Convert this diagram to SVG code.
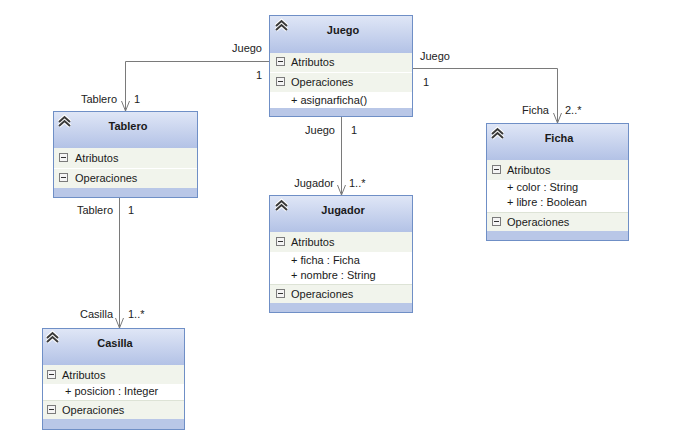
<svg xmlns="http://www.w3.org/2000/svg" width="674" height="436" viewBox="0 0 674 436">
<defs>
<linearGradient id="hdr" x1="0" y1="0" x2="0" y2="1">
<stop offset="0" stop-color="#dfe6f6"/>
<stop offset="1" stop-color="#b3c2e6"/>
</linearGradient>
<marker id="arr" viewBox="0 0 10 10" refX="10" refY="5" markerWidth="10" markerHeight="10" markerUnits="userSpaceOnUse" orient="auto">
<path d="M0,1 L10,5 L0,9" fill="none" stroke="#7a7a7a" stroke-width="1"/>
</marker>
<g id="chev">
<path d="M0,6 L5.5,1 L11,6 M0,10 L5.5,5 L11,10" fill="none" stroke="#ffffff" stroke-width="4" stroke-linejoin="miter"/>
<path d="M0,6 L5.5,1 L11,6 M0,10 L5.5,5 L11,10" fill="none" stroke="#3a3a3a" stroke-width="2"/>
</g>
<g id="minus">
<rect x="0.5" y="0.5" width="8" height="8" fill="#f4f4f4" stroke="#7b7b7b"/>
<line x1="2" y1="4.5" x2="7" y2="4.5" stroke="#333" stroke-width="1"/>
</g>
</defs>
<style>
.box{fill:#ffffff;stroke:#6f8fc6;stroke-width:1}
.hdr{fill:url(#hdr)}
.row{fill:#f1f4ec}
.band{fill:#b9c7e7}
.sep{stroke:#ffffff;stroke-width:1}
text{font-family:"Liberation Sans",Arial,sans-serif;font-size:11px;fill:#1a1a1a}
.title{font-weight:bold;text-anchor:middle}
.lbl{fill:#222}
.end{text-anchor:end}
.conn{fill:none;stroke:#7a7a7a;stroke-width:1}
</style>
<rect width="674" height="436" fill="#ffffff"/>

<g id="connectors">
<path class="conn" d="M269,61.5 H125.5 V111" marker-end="url(#arr)"/>
<path class="conn" d="M413,68.5 H557.5 V123" marker-end="url(#arr)"/>
<path class="conn" d="M341.5,117 V195" marker-end="url(#arr)"/>
<path class="conn" d="M119.5,198 V328" marker-end="url(#arr)"/>
<text class="lbl end" x="262" y="52">Juego</text>
<text class="lbl end" x="262" y="79">1</text>
<text class="lbl end" x="117" y="103">Tablero</text>
<text class="lbl" x="134" y="103">1</text>
<text class="lbl" x="420" y="60">Juego</text>
<text class="lbl" x="423" y="86">1</text>
<text class="lbl end" x="549" y="114">Ficha</text>
<text class="lbl" x="565" y="114">2..*</text>
<text class="lbl end" x="335" y="134">Juego</text>
<text class="lbl" x="351" y="134">1</text>
<text class="lbl end" x="334" y="187">Jugador</text>
<text class="lbl" x="349" y="187">1..*</text>
<text class="lbl end" x="113" y="214">Tablero</text>
<text class="lbl" x="128" y="214">1</text>
<text class="lbl end" x="113" y="318">Casilla</text>
<text class="lbl" x="128" y="318">1..*</text>
</g>

<g id="Juego">
<rect class="box" x="269.5" y="15.5" width="143" height="101"/>
<rect class="hdr" x="270" y="16" width="142" height="37"/>
<rect class="row" x="270" y="53" width="142" height="19"/>
<rect class="row" x="270" y="72" width="142" height="20"/>
<rect class="band" x="270" y="108" width="142" height="8"/>
<line class="sep" x1="270" y1="72.5" x2="412" y2="72.5"/>
<use href="#chev" x="276" y="20"/>
<text class="title" x="343" y="34">Juego</text>
<use href="#minus" x="276" y="57"/>
<text x="291" y="66">Atributos</text>
<use href="#minus" x="276" y="77"/>
<text x="291" y="86">Operaciones</text>
<text x="291" y="104">+ asignarficha()</text>
</g>

<g id="Tablero">
<rect class="box" x="53.5" y="111.5" width="144" height="86"/>
<rect class="hdr" x="54" y="112" width="143" height="36"/>
<rect class="row" x="54" y="148" width="143" height="20"/>
<rect class="row" x="54" y="168" width="143" height="20"/>
<rect class="band" x="54" y="188" width="143" height="9"/>
<line class="sep" x1="54" y1="168.5" x2="197" y2="168.5"/>
<use href="#chev" x="59" y="116"/>
<text class="title" x="128" y="130">Tablero</text>
<use href="#minus" x="59" y="153"/>
<text x="75" y="162">Atributos</text>
<use href="#minus" x="59" y="173"/>
<text x="75" y="182">Operaciones</text>
</g>

<g id="Jugador">
<rect class="box" x="269.5" y="195.5" width="143" height="117"/>
<rect class="hdr" x="270" y="196" width="142" height="36"/>
<rect class="row" x="270" y="232" width="142" height="20"/>
<rect class="row" x="270" y="284" width="142" height="19"/>
<rect class="band" x="270" y="303" width="142" height="9"/>
<line x1="270" y1="284.5" x2="412" y2="284.5" stroke="#dde3d6"/>
<use href="#chev" x="276" y="200"/>
<text class="title" x="343" y="214">Jugador</text>
<use href="#minus" x="276" y="237"/>
<text x="291" y="246">Atributos</text>
<text x="291" y="264">+ ficha : Ficha</text>
<text x="291" y="279">+ nombre : String</text>
<use href="#minus" x="276" y="289"/>
<text x="291" y="298">Operaciones</text>
</g>

<g id="Ficha">
<rect class="box" x="486.5" y="123.5" width="142" height="117"/>
<rect class="hdr" x="487" y="124" width="141" height="36"/>
<rect class="row" x="487" y="160" width="141" height="20"/>
<rect class="row" x="487" y="212" width="141" height="19"/>
<rect class="band" x="487" y="231" width="141" height="9"/>
<line x1="487" y1="212.5" x2="628" y2="212.5" stroke="#dde3d6"/>
<use href="#chev" x="492" y="128"/>
<text class="title" x="559" y="142">Ficha</text>
<use href="#minus" x="492" y="165"/>
<text x="507" y="174">Atributos</text>
<text x="507" y="191">+ color : String</text>
<text x="507" y="206">+ libre : Boolean</text>
<use href="#minus" x="492" y="217"/>
<text x="507" y="226">Operaciones</text>
</g>

<g id="Casilla">
<rect class="box" x="42.5" y="328.5" width="142" height="101"/>
<rect class="hdr" x="43" y="329" width="141" height="36"/>
<rect class="row" x="43" y="365" width="141" height="19"/>
<rect class="row" x="43" y="400" width="141" height="19"/>
<rect class="band" x="43" y="419" width="141" height="10"/>
<line x1="43" y1="400.5" x2="184" y2="400.5" stroke="#dde3d6"/>
<use href="#chev" x="47" y="332"/>
<text class="title" x="115" y="347">Casilla</text>
<use href="#minus" x="47" y="370"/>
<text x="62" y="379">Atributos</text>
<text x="65" y="395">+ posicion : Integer</text>
<use href="#minus" x="47" y="405"/>
<text x="62" y="414">Operaciones</text>
</g>
</svg>
